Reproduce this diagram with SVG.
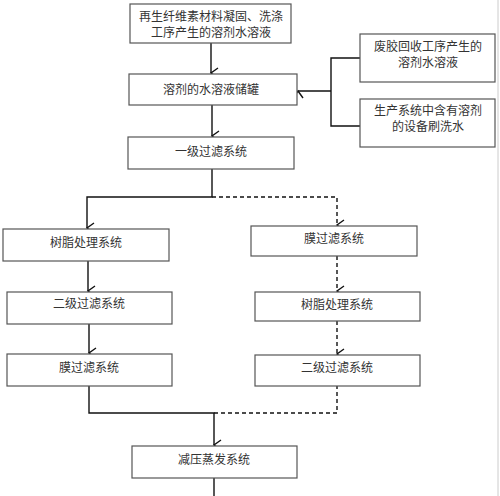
<svg xmlns="http://www.w3.org/2000/svg" width="500" height="496" viewBox="0 0 500 496">
<defs>
<marker id="arr" markerWidth="12" markerHeight="12" refX="6" refY="10" orient="auto" markerUnits="userSpaceOnUse" viewBox="0 0 12 12">
<path d="M1,3 L6,10 L11,3" fill="none" stroke="#111" stroke-width="1.4"/>
</marker>
<marker id="arrL" markerWidth="12" markerHeight="12" refX="6" refY="10" orient="auto" markerUnits="userSpaceOnUse" viewBox="0 0 12 12">
<path d="M1,3 L6,10 L11,3" fill="none" stroke="#111" stroke-width="1.4"/>
</marker>
</defs>
<style>
.box{fill:#fff;stroke:#555;stroke-width:1.2}
.t{font-family:"Liberation Serif","Noto Sans CJK SC",serif;font-size:12px;fill:#333;text-anchor:middle}
.c{fill:none;stroke:#111;stroke-width:1.4}
.d{fill:none;stroke:#111;stroke-width:1.4;stroke-dasharray:4,3}
</style>
<rect x="0" y="0" width="500" height="496" fill="#fff"/>
<line x1="498" y1="0" x2="498" y2="496" stroke="#ccc" stroke-width="1"/>
<g id="connectors">
<path class="c" d="M211,43 V73" marker-end="url(#arr)"/>
<path class="c" d="M360,58 H331 V126 H360"/>
<path class="c" d="M331,91 H298" marker-end="url(#arr)"/>
<path class="c" d="M212,105 V136" marker-end="url(#arr)"/>
<path class="c" d="M212,169 V197 H87 V228" marker-end="url(#arr)"/>
<path class="d" d="M212,197 H337 V225" marker-end="url(#arr)"/>
<path class="c" d="M88,261 V291" marker-end="url(#arr)"/>
<path class="c" d="M89,324 V353" marker-end="url(#arr)"/>
<path class="d" d="M337,256 V291" marker-end="url(#arr)"/>
<path class="d" d="M337,321 V354" marker-end="url(#arr)"/>
<path class="c" d="M89,386 V413 H214 V445" marker-end="url(#arr)"/>
<path class="d" d="M214,413 H337 V386"/>
<path class="c" d="M214,478 V496"/>
</g>
<g id="n1"><rect class="box" x="130" y="4" width="161" height="39"/>
<text class="t" x="211" y="21">再生纤维素材料凝固、洗涤</text>
<text class="t" x="211" y="37">工序产生的溶剂水溶液</text></g>
<g id="n2"><rect class="box" x="129" y="74" width="168" height="31"/>
<text class="t" x="211" y="94">溶剂的水溶液储罐</text></g>
<g id="n3"><rect class="box" x="360" y="34" width="135" height="48"/>
<text class="t" x="428" y="51">废胶回收工序产生的</text>
<text class="t" x="428" y="67">溶剂水溶液</text></g>
<g id="n4"><rect class="box" x="360" y="99" width="135" height="48"/>
<text class="t" x="428" y="115">生产系统中含有溶剂</text>
<text class="t" x="428" y="131">的设备刷洗水</text></g>
<g id="n5"><rect class="box" x="128" y="137" width="166" height="32"/>
<text class="t" x="211" y="156">一级过滤系统</text></g>
<g id="n6"><rect class="box" x="3" y="229" width="166" height="32"/>
<text class="t" x="86" y="247">树脂处理系统</text></g>
<g id="n7"><rect class="box" x="251" y="226" width="166" height="30"/>
<text class="t" x="334" y="243">膜过滤系统</text></g>
<g id="n8"><rect class="box" x="7" y="292" width="165" height="32"/>
<text class="t" x="89" y="308">二级过滤系统</text></g>
<g id="n9"><rect class="box" x="255" y="292" width="165" height="29"/>
<text class="t" x="337" y="309">树脂处理系统</text></g>
<g id="n10"><rect class="box" x="7" y="354" width="165" height="32"/>
<text class="t" x="89" y="372">膜过滤系统</text></g>
<g id="n11"><rect class="box" x="255" y="355" width="165" height="31"/>
<text class="t" x="337" y="372">二级过滤系统</text></g>
<g id="n12"><rect class="box" x="132" y="446" width="165" height="32"/>
<text class="t" x="214" y="464">减压蒸发系统</text></g>
</svg>
